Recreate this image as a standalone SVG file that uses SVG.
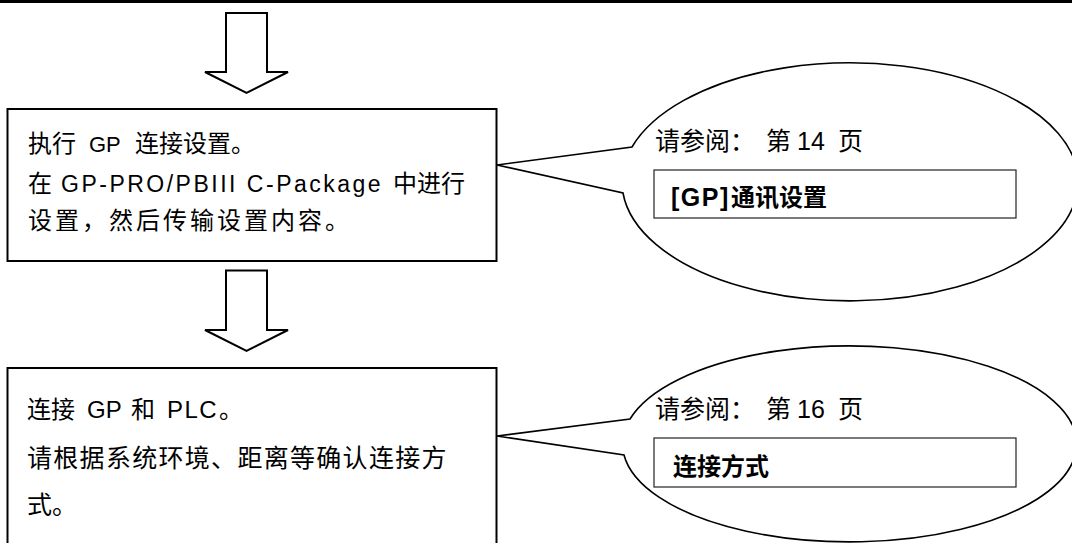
<svg xmlns="http://www.w3.org/2000/svg" width="1072" height="543" viewBox="0 0 1072 543">
<style>
.box{fill:#fff;stroke:#000;stroke-width:2}
.arrow{fill:#fff;stroke:#000;stroke-width:2;stroke-linejoin:miter}
.call{fill:#fff;stroke:#000;stroke-width:1.6;stroke-linejoin:miter}
.inner{fill:#fff;stroke:#222;stroke-width:1.2}
.t{font-family:"Liberation Sans","Noto Sans CJK SC",sans-serif;font-size:24px;fill:#000}
.c{font-size:25px}
.b{font-weight:bold}
</style>
<rect x="0" y="0" width="1072" height="3" fill="#000"/>
<g id="connectors">
  <polygon class="arrow" points="226,13 267,13 267,72 288,72 246.5,93 205,72 226,72"/>
  <polygon class="arrow" points="226,270.5 267,270.5 267,330 288,330 246.5,351 205,330 226,330"/>
</g>
<g id="box1">
  <rect class="box" x="7.5" y="109" width="489" height="152"/>
  <text class="t" y="152"><tspan x="28">执行</tspan><tspan x="89" font-size="22">GP</tspan><tspan x="135">连接设置。</tspan></text>
  <text class="t" y="192"><tspan x="28">在</tspan><tspan x="61" font-size="23" letter-spacing="2.5">GP-PRO/PBIII C-Package</tspan><tspan x="393">中进行</tspan></text>
  <text class="t" y="229" x="28" letter-spacing="3">设置，然后传输设置内容。</text>
</g>
<g id="callout1">
  <path class="call" d="M497,165 L632,147 A228 119 0 1 1 623,193 Z"/>
  <text class="t c" y="150"><tspan x="655">请参阅：</tspan><tspan x="766">第</tspan><tspan x="797">14</tspan><tspan x="838">页</tspan></text>
  <rect class="inner" x="654" y="170" width="362" height="48"/>
  <text class="t b" y="206"><tspan x="671" font-size="25" letter-spacing="1.5">[GP]</tspan><tspan x="731">通讯设置</tspan></text>
</g>
<g id="box2">
  <rect class="box" x="7.5" y="368" width="489" height="200"/>
  <text class="t" y="418"><tspan x="27">连接</tspan><tspan x="87">GP</tspan><tspan x="131">和</tspan><tspan x="167" letter-spacing="1.5">PLC</tspan><tspan x="219">。</tspan></text>
  <text class="t c" y="467" x="27" letter-spacing="1.3">请根据系统环境、距离等确认连接方</text>
  <text class="t c" y="514" x="27">式。</text>
</g>
<g id="callout2">
  <path class="call" d="M497,436 L630,419 A227 98 0 1 1 624,455 Z"/>
  <text class="t c" y="418"><tspan x="655">请参阅：</tspan><tspan x="766">第</tspan><tspan x="797">16</tspan><tspan x="838">页</tspan></text>
  <rect class="inner" x="654" y="438" width="362" height="49"/>
  <text class="t b" x="673" y="475">连接方式</text>
</g>
</svg>
